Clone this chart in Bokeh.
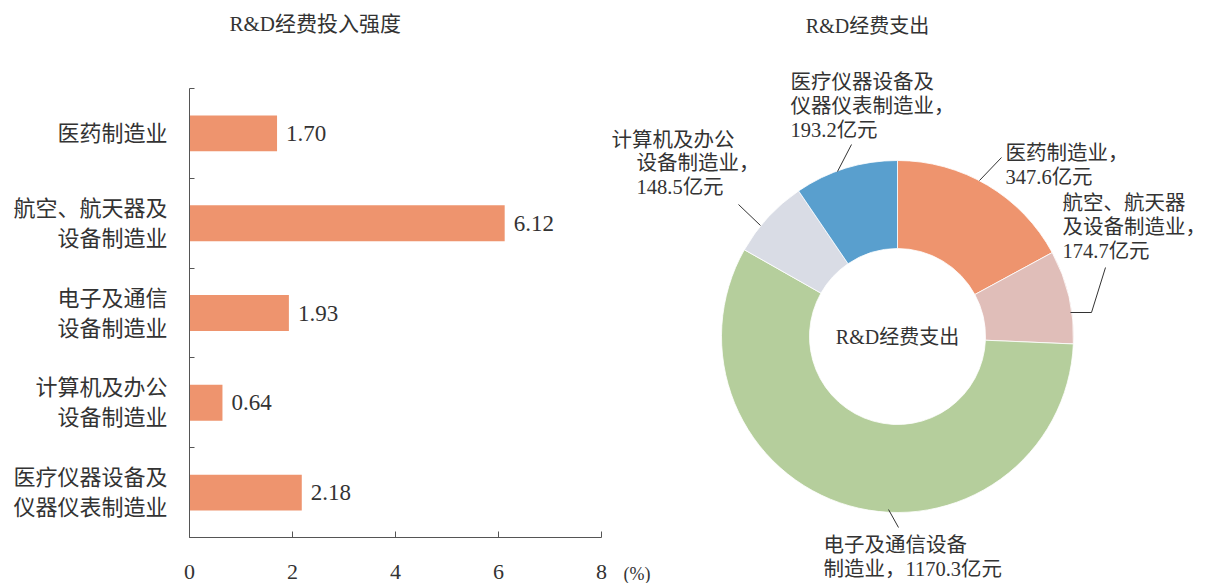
import math
from bokeh.plotting import figure
from bokeh.layouts import row
from bokeh.models import Range1d, FixedTicker, Title
from bokeh.embed import file_html
from bokeh.resources import INLINE
from bokeh.core.properties import value

FONT = "Liberation Serif, Noto Sans CJK SC"
TEXT = "#333333"
AXIS = "#555555"
ORANGE = "#EE946E"

# ---------------- data ----------------
bar_categories = ["医药制造业", "航空、航天器及\n设备制造业", "电子及通信\n设备制造业",
                  "计算机及办公\n设备制造业", "医疗仪器设备及\n仪器仪表制造业"]
bar_values = [1.70, 6.12, 1.93, 0.64, 2.18]
bar_labels = ["1.70", "6.12", "1.93", "0.64", "2.18"]
x_ticks = [0, 2, 4, 6, 8]

pie_names = ["医药制造业，", "航空、航天器\n及设备制造业，", "电子及通信设备\n制造业，",
             "设备制造业，", "医疗仪器设备及\n仪器仪表制造业，"]
pie_values = [347.6, 174.7, 1170.3, 148.5, 193.2]
pie_colors = ["#EE946E", "#E0BEB9", "#B5CE9C", "#D9DCE5", "#599FCE"]
pie_sep = ["\n", "\n", "", "\n", "\n"]

# ---------------- left: bar chart ----------------
n = len(bar_categories)
ys = [i + 0.5 for i in range(n)]
p1 = figure(width=608, height=583, x_range=Range1d(0, 8), y_range=Range1d(n, 0),
            output_backend="svg", toolbar_location=None, frame_align=False,
            min_border_left=189, min_border_right=7, min_border_top=88, min_border_bottom=46)
p1.hbar(y=ys, left=0, right=bar_values, height=0.4, fill_color=ORANGE, line_color=None)
p1.text(x=bar_values, y=ys, text=bar_labels, x_offset=9, text_align="left",
        text_baseline="middle", text_font=value(FONT), text_font_size="23px", text_color=TEXT)
p1.xgrid.visible = False
p1.ygrid.visible = False
p1.outline_line_color = None
p1.background_fill_color = None
p1.border_fill_color = None

# spacer between frame and title
p1.add_layout(Title(text=" ", text_font_size="32px"), "above")
p1.title.text = "R&D经费投入强度"
p1.title.align = "left"
p1.title.offset = 40
p1.title.text_font = FONT
p1.title.text_font_size = "21px"
p1.title.text_font_style = "normal"
p1.title.text_color = TEXT

xa = p1.xaxis[0]
xa.ticker = FixedTicker(ticks=x_ticks)
xa.major_tick_in = 6
xa.major_tick_out = 0
xa.minor_tick_line_color = None
xa.axis_line_color = AXIS
xa.major_tick_line_color = AXIS
xa.major_label_standoff = 27
xa.major_label_text_font = FONT
xa.major_label_text_font_size = "22px"
xa.major_label_text_color = TEXT

ya = p1.yaxis[0]
ya.ticker = FixedTicker(ticks=ys, minor_ticks=list(range(n + 1)))
ya.major_label_overrides = {y: c for y, c in zip(ys, bar_categories)}
ya.major_tick_line_color = None
ya.minor_tick_in = 5
ya.minor_tick_out = 0
ya.minor_tick_line_color = AXIS
ya.axis_line_color = AXIS
ya.major_label_standoff = 16
ya.major_label_text_font = FONT
ya.major_label_text_font_size = "22px"
ya.major_label_text_color = TEXT

# ---------------- right: donut ----------------
p2 = figure(width=600, height=583, x_range=Range1d(608, 1208), y_range=Range1d(583, 0),
            output_backend="svg", toolbar_location=None, min_border=0, frame_align=False,
            x_axis_location=None, y_axis_location=None)
p2.xgrid.visible = False
p2.ygrid.visible = False
p2.outline_line_color = None
p2.background_fill_color = None
p2.border_fill_color = None

total = sum(pie_values)
starts, ends = [], []
cum = 0.0
for v in pie_values:
    starts.append(math.pi / 2 - 2 * math.pi * cum / total)
    cum += v
    ends.append(math.pi / 2 - 2 * math.pi * cum / total)

CX, CY, R_OUT, R_IN = 897, 336, 176, 88
p2.annular_wedge(x=CX, y=CY, inner_radius=R_IN, outer_radius=R_OUT,
                 start_angle=starts, end_angle=ends, direction="clock",
                 fill_color=pie_colors, line_color="white", line_width=0.8)

# leader lines
p2.multi_line(xs=[[1001, 979], [1105, 1091, 1070], [888, 898], [738, 760], [851, 837]],
              ys=[[157, 180], [267, 312, 312], [509, 527], [204, 225], [144, 171]],
              line_color="#333333", line_width=1)

pie_texts = [f"{nm}{sep}{v}亿元" for nm, sep, v in zip(pie_names, pie_sep, pie_values)]
lab_x = [1005, 1062, 823, 636, 790]
lab_y = [141, 191, 533, 151, 70]
p2.text(x=lab_x, y=lab_y, text=pie_texts, text_align="left", text_baseline="top",
        text_font=value(FONT), text_font_size="20.5px", text_color=TEXT, text_line_height=1.1)
p2.text(x=[611], y=[128], text=["计算机及办公"], text_align="left", text_baseline="top",
        text_font=value(FONT), text_font_size="20.5px", text_color=TEXT)

p2.text(x=[CX], y=[CY], text=["R&D经费支出"], text_align="center", text_baseline="middle",
        text_font=value(FONT), text_font_size="20px", text_color=TEXT)
p2.text(x=[867], y=[25], text=["R&D经费支出"], text_align="center", text_baseline="middle",
        text_font=value(FONT), text_font_size="20px", text_color=TEXT)
p2.text(x=[623], y=[573], text=["(%)"], text_align="left", text_baseline="middle",
        text_font=value(FONT), text_font_size="18px", text_color=TEXT)

layout = row(p1, p2)
open("out.html", "w").write(file_html(layout, INLINE))
